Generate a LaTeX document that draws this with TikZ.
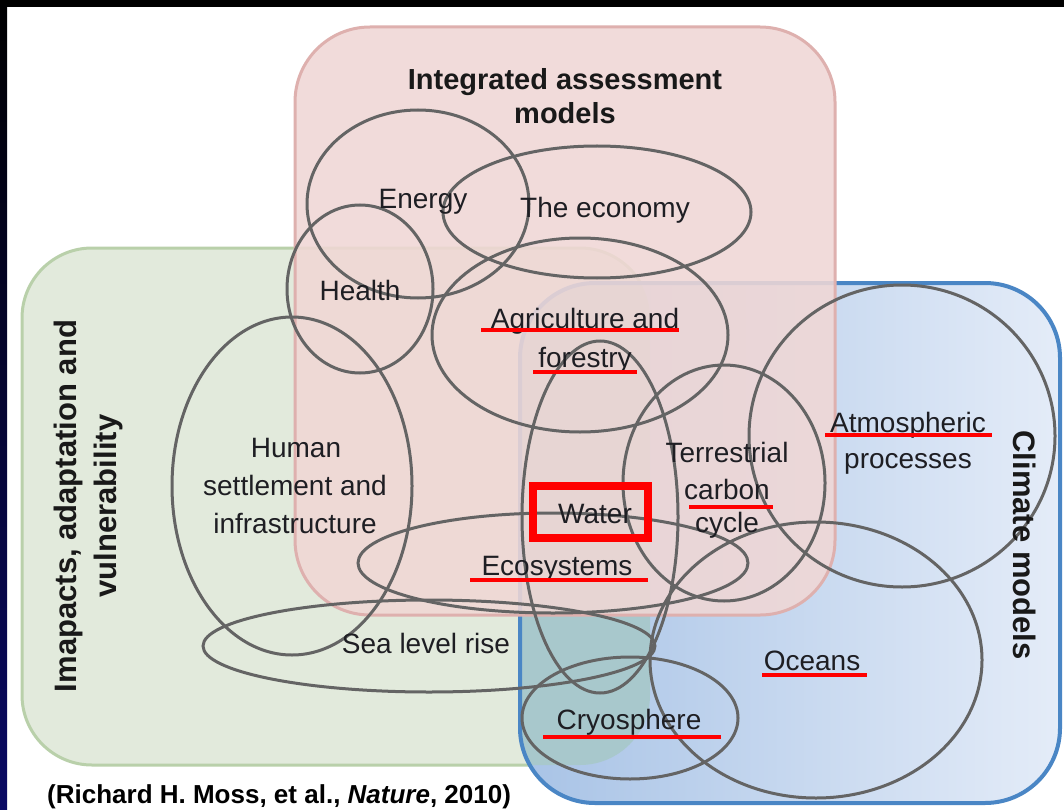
\documentclass[tikz,border=0pt]{standalone}
\usepackage{fontspec}
\setmainfont{Liberation Sans}
\definecolor{ringgray}{RGB}{100,100,100}
\definecolor{labeltext}{RGB}{30,30,35}
\definecolor{pinkfill}{RGB}{240,215,213}
\definecolor{pinkedge}{RGB}{222,176,174}
\definecolor{greenfill}{RGB}{226,234,220}
\definecolor{greenedge}{RGB}{185,208,170}
\definecolor{bluL}{RGB}{168,195,230}
\definecolor{bluR}{RGB}{228,236,248}
\definecolor{blueedge}{RGB}{74,134,197}
\definecolor{tealc}{RGB}{168,200,204}
\definecolor{navyc}{RGB}{10,10,100}
\begin{document}
\begin{tikzpicture}[x=1pt,y=-1pt,
  ring/.style={draw=ringgray, line width=3pt},
  lbl/.style={text=labeltext, font=\fontsize{28}{34}\selectfont, inner sep=0pt, anchor=base},
  ttl/.style={text=black!90, font=\bfseries\fontsize{29}{34}\selectfont, inner sep=0pt, anchor=base},
  sidettl/.style={text=black!90, font=\bfseries\fontsize{31}{40}\selectfont, inner sep=0pt, align=center},
  redline/.style={draw=red, line width=4pt},
  redbox/.style={draw=red, line width=8pt}]
\useasboundingbox (0,0) rectangle (1064,810);
\fill[white] (0,0) rectangle (1064,810);
\fill[black] (0,0) rectangle (1064,7);
\shade[top color=black, bottom color=navyc] (0,0) rectangle (7,810);
% green box
\draw[fill=greenfill, draw=greenedge, line width=3pt, rounded corners=70pt] (22,248) rectangle (650,765);
% blue box
\shade[left color=bluL, right color=bluR, rounded corners=75pt] (520,283) rectangle (1060,803);
\begin{scope}
  \clip[rounded corners=70pt] (22,248) rectangle (650,765);
  \fill[tealc, rounded corners=75pt] (520,283) rectangle (1060,803);
\end{scope}
\draw[draw=blueedge, line width=4pt, rounded corners=75pt] (520,283) rectangle (1060,803);
% pink box
\draw[fill=pinkfill, fill opacity=0.88, draw=pinkedge, line width=3pt, rounded corners=75pt] (295,27) rectangle (835,615);
% rings
\draw[ring] (418,204) ellipse [x radius=111pt, y radius=94pt];
\draw[ring] (597,212) ellipse [x radius=154pt, y radius=66pt];
\draw[ring] (360,289) ellipse [x radius=73pt, y radius=84pt];
\draw[ring] (580,335) ellipse [x radius=148pt, y radius=97pt];
\draw[ring] (292,486) ellipse [x radius=120pt, y radius=169pt];
\draw[ring] (429,646) ellipse [x radius=226pt, y radius=46pt];
\draw[ring] (553,563) ellipse [x radius=195pt, y radius=50pt];
\draw[ring] (600,517) ellipse [x radius=78pt, y radius=176pt];
\draw[ring] (724,483) ellipse [x radius=101pt, y radius=118pt];
\draw[ring] (902,436) ellipse [x radius=153pt, y radius=151pt];
\draw[ring] (816,660) ellipse [x radius=166pt, y radius=138pt];
\draw[ring] (630,718) ellipse [x radius=108pt, y radius=61pt];
% titles
\node[ttl] (iam1) at (565,90) {Integrated assessment};
\node[ttl] (iam2) at (565,124) {models};
\node[sidettl, rotate=90] (iav) at (88,506) {Imapacts, adaptation and\\vulnerability};
\node[sidettl, rotate=-90] (cm) at (1025,545) {Climate models};
% labels
\node[lbl] (energy) at (423,209) {Energy};
\node[lbl] (econ) at (605,218) {The economy};
\node[lbl] (health) at (360,300) {Health};
\node[lbl] (agri) at (585,328) {Agriculture and};
\node[lbl] (forest) at (585,367) {forestry};
\node[lbl] (hum1) at (296,457) {Human};
\node[lbl] (hum2) at (295,495) {settlement and};
\node[lbl] (hum3) at (295,533) {infrastructure};
\node[lbl] (water) at (595,523) {Water};
\node[lbl] (eco) at (557,575) {Ecosystems};
\node[lbl] (terr1) at (727,462) {Terrestrial};
\node[lbl] (terr2) at (727,499) {carbon};
\node[lbl] (terr3) at (727,532) {cycle};
\node[lbl] (atm1) at (908,432) {Atmospheric};
\node[lbl] (atm2) at (908,468) {processes};
\node[lbl] (sea) at (426,653) {Sea level rise};
\node[lbl] (ocean) at (812,670) {Oceans};
\node[lbl] (cryo) at (629,729) {Cryosphere};
% citation
\node[anchor=west, inner sep=0pt, text=black, font=\bfseries\fontsize{26}{30}\selectfont] (cite) at (47,797) {(Richard H. Moss, et al., \textit{Nature}, 2010)};
% red marks
\draw[redline] (481,330) -- (679,330);
\draw[redline] (533,372) -- (637,372);
\draw[redline] (470,580) -- (648,580);
\draw[redline] (689,507) -- (773,507);
\draw[redline] (825,435) -- (992,435);
\draw[redline] (762,675) -- (867,675);
\draw[redline] (543,737) -- (721,737);
\draw[redbox] (533,486) rectangle (648,538);
\end{tikzpicture}
\end{document}
